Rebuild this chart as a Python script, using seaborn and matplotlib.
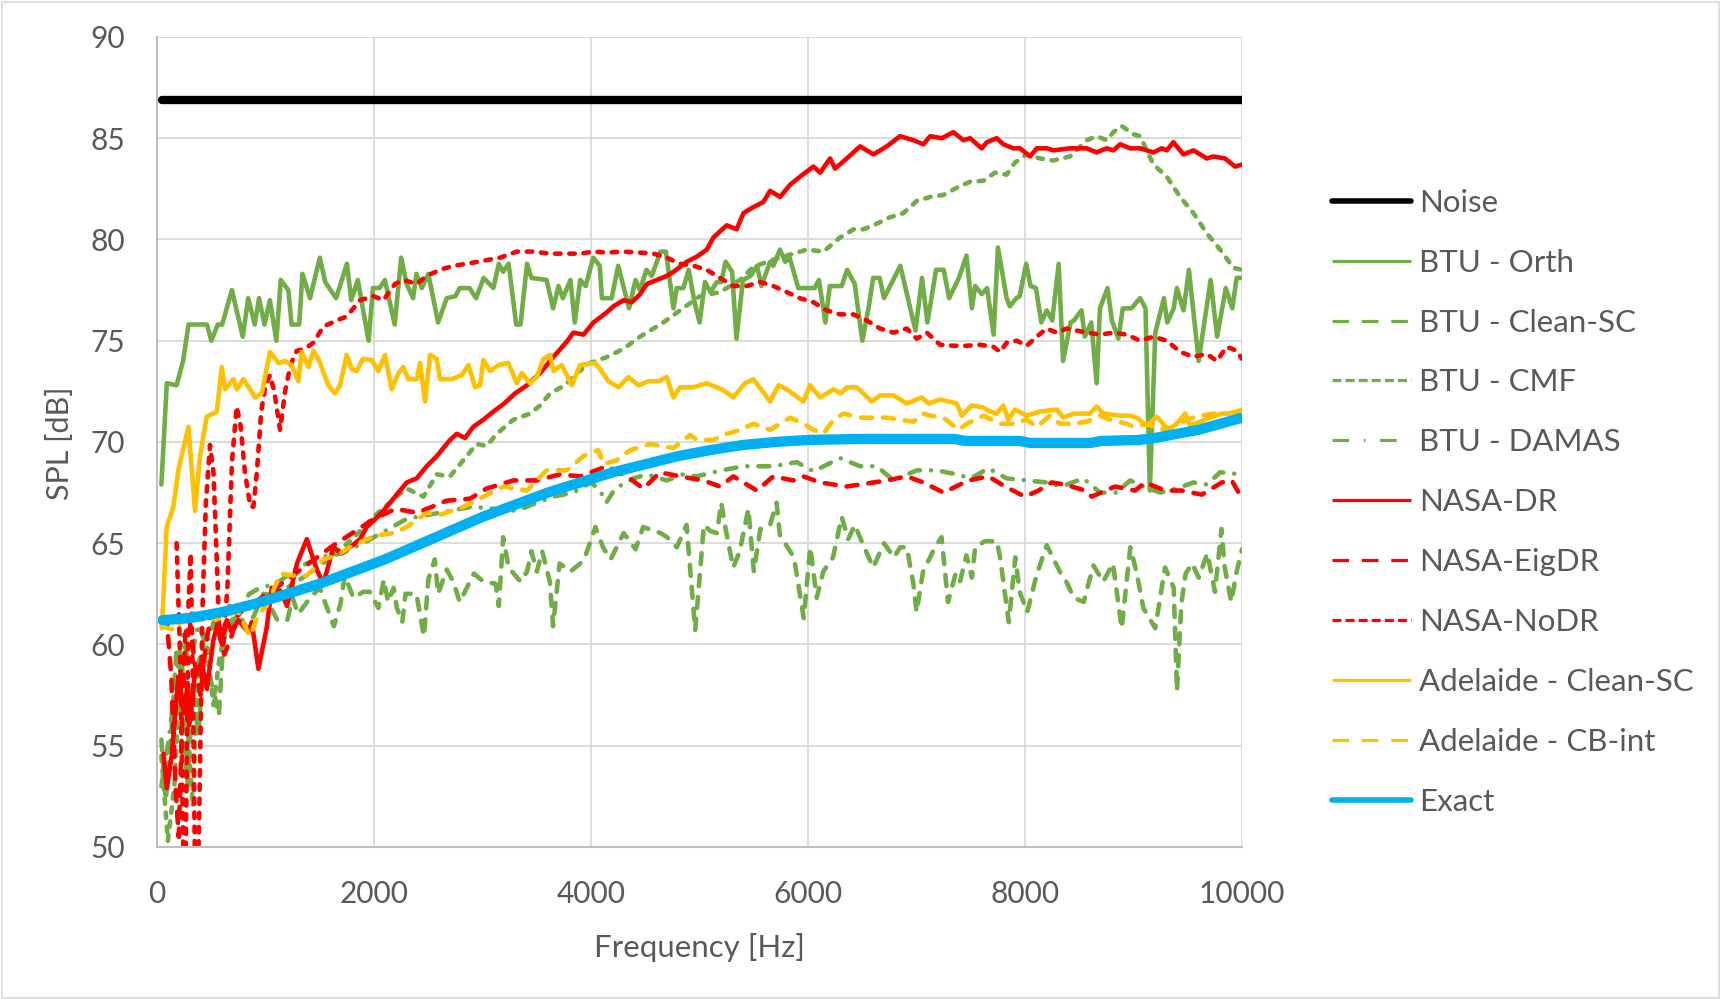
import matplotlib
matplotlib.use("Agg")
import matplotlib.pyplot as plt
from matplotlib.lines import Line2D
from matplotlib.patches import Rectangle
import seaborn as sns

# (frequency [Hz], SPL [dB]) pairs
NOISE = [(50, 86.9), (10000, 86.9)]

BTU_ORTH = [(40, 67.9), (90, 72.9), (180, 72.8), (240, 74.0), (290, 75.8), (460, 75.8), (500, 75.0), (560, 75.8),
            (600, 75.8), (690, 77.5), (790, 75.2), (840, 77.1), (900, 75.8), (940, 77.1), (990, 75.8), (1040, 77.0),
            (1100, 75.0), (1140, 78.0), (1210, 77.5), (1240, 75.8), (1310, 75.8), (1340, 78.3), (1410, 77.1),
            (1500, 79.1), (1550, 77.9), (1650, 77.1), (1750, 78.8), (1790, 77.0), (1850, 78.0), (1950, 75.0),
            (1990, 77.6), (2050, 77.6), (2100, 78.0), (2190, 75.8), (2250, 79.1), (2300, 77.8), (2360, 77.1),
            (2390, 78.3), (2440, 77.6), (2500, 78.3), (2590, 75.9), (2670, 77.1), (2750, 77.2), (2790, 77.6),
            (2880, 77.6), (2940, 77.1), (3010, 78.1), (3100, 77.6), (3150, 78.8), (3190, 78.4), (3240, 78.8),
            (3310, 75.8), (3350, 75.8), (3410, 78.8), (3450, 78.1), (3590, 78.0), (3650, 76.6), (3700, 77.7),
            (3740, 77.1), (3810, 78.0), (3850, 75.9), (3900, 78.0), (3950, 77.7), (4020, 79.1), (4080, 78.7),
            (4100, 77.1), (4190, 77.1), (4250, 78.7), (4350, 76.6), (4410, 78.0), (4450, 77.5), (4510, 78.5),
            (4560, 78.2), (4640, 79.4), (4690, 79.4), (4760, 76.6), (4790, 77.6), (4850, 77.6), (4900, 78.5),
            (4950, 77.0), (5000, 75.9), (5050, 77.9), (5100, 77.4), (5160, 77.9), (5200, 77.9), (5240, 78.9),
            (5300, 78.4), (5340, 75.1), (5400, 78.0), (5470, 78.2), (5530, 78.7), (5570, 77.7), (5650, 78.9),
            (5680, 78.7), (5740, 79.5), (5790, 78.9), (5830, 79.1), (5910, 77.6), (6060, 77.6), (6100, 78.0),
            (6160, 75.9), (6200, 77.7), (6310, 77.7), (6360, 78.5), (6430, 77.8), (6500, 75.0), (6560, 76.7),
            (6600, 78.1), (6660, 78.1), (6700, 77.1), (6850, 78.7), (6990, 75.5), (7050, 78.1), (7100, 75.9),
            (7180, 78.5), (7250, 78.5), (7300, 77.1), (7390, 78.1), (7460, 79.2), (7510, 76.6), (7540, 77.7),
            (7600, 77.3), (7650, 77.6), (7710, 75.3), (7750, 79.6), (7830, 77.1), (7860, 76.7), (7920, 77.1),
            (7950, 77.2), (8010, 78.8), (8050, 77.7), (8100, 77.6), (8150, 75.9), (8200, 76.5), (8250, 76.0),
            (8310, 78.8), (8350, 74.0), (8420, 75.9), (8450, 76.0), (8520, 76.5), (8550, 75.2), (8610, 75.9),
            (8660, 72.9), (8690, 76.6), (8760, 77.6), (8800, 76.0), (8860, 75.1), (8900, 76.6), (8980, 76.6),
            (9060, 77.1), (9110, 76.6), (9150, 67.6), (9200, 75.4), (9280, 77.1), (9310, 75.9), (9370, 76.6),
            (9400, 77.6), (9460, 76.5), (9510, 78.5), (9600, 74.0), (9710, 78.0), (9770, 75.2), (9850, 77.6),
            (9910, 76.6), (9950, 78.1), (10000, 78.1)]

BTU_CLEAN_SC = [(40, 55.3), (80, 52.3), (130, 55.5), (180, 59.8), (230, 56.5), (280, 53.0), (330, 58.0),
                (380, 55.5), (430, 59.2), (480, 58.5), (530, 57.5), (570, 56.5), (610, 60.2), (680, 61.0),
                (750, 61.5), (830, 60.8), (900, 61.5), (980, 62.5), (1050, 61.8), (1110, 61.2), (1200, 61.2),
                (1250, 62.3), (1300, 61.5), (1410, 62.3), (1500, 62.8), (1560, 61.9), (1630, 60.9), (1690, 62.0),
                (1730, 63.4), (1810, 62.3), (1900, 62.6), (1960, 62.6), (2040, 61.8), (2090, 63.2), (2130, 62.1),
                (2180, 62.8), (2210, 61.8), (2260, 61.1), (2290, 62.5), (2390, 62.5), (2460, 60.4), (2500, 63.2),
                (2560, 64.2), (2590, 62.5), (2670, 63.7), (2730, 63.1), (2790, 62.1), (2920, 63.5), (3010, 63.1),
                (3120, 63.0), (3150, 61.9), (3190, 65.3), (3240, 63.8), (3350, 63.1), (3410, 63.6), (3450, 64.6),
                (3500, 63.6), (3550, 64.6), (3620, 63.1), (3650, 60.9), (3710, 64.0), (3810, 63.6), (3900, 64.0),
                (3950, 64.4), (4040, 65.8), (4110, 64.8), (4180, 64.2), (4300, 65.5), (4410, 64.7), (4480, 65.8),
                (4640, 65.5), (4700, 65.3), (4790, 64.8), (4880, 65.9), (4960, 60.7), (5040, 65.9), (5100, 65.6),
                (5160, 65.5), (5200, 67.0), (5240, 65.7), (5310, 63.8), (5370, 64.6), (5450, 66.7), (5500, 63.6),
                (5560, 65.7), (5650, 65.9), (5710, 67.0), (5740, 65.4), (5870, 64.3), (5960, 61.3), (6020, 64.8),
                (6080, 62.3), (6140, 63.6), (6230, 64.3), (6310, 66.3), (6370, 65.2), (6430, 65.9), (6510, 64.9),
                (6600, 63.8), (6700, 65.0), (6790, 64.3), (6850, 64.8), (6910, 64.8), (6970, 63.0), (7000, 61.6),
                (7060, 63.6), (7170, 64.8), (7230, 65.3), (7290, 62.1), (7360, 63.5), (7400, 63.1), (7460, 64.4),
                (7510, 63.3), (7540, 64.8), (7630, 65.1), (7740, 65.1), (7770, 64.3), (7850, 61.1), (7910, 64.3),
                (7950, 62.6), (8020, 61.6), (8110, 63.5), (8200, 64.9), (8320, 63.6), (8380, 63.1), (8450, 62.3),
                (8540, 62.1), (8630, 63.9), (8720, 63.1), (8810, 64.0), (8890, 60.8), (8970, 64.8), (9030, 63.5),
                (9090, 61.8), (9200, 60.8), (9290, 63.8), (9370, 62.8), (9400, 57.7), (9440, 62.0), (9480, 63.5),
                (9540, 64.0), (9600, 63.3), (9680, 64.5), (9750, 62.6), (9810, 65.7), (9840, 63.8), (9900, 62.1),
                (9950, 63.6), (10000, 64.7)]

BTU_CMF = [(40, 54.5), (100, 50.3), (160, 53.0), (220, 59.5), (280, 56.0), (330, 52.0), (380, 59.0), (450, 60.5),
           (520, 57.0), (580, 59.5), (650, 61.0), (750, 61.5), (850, 62.0), (950, 62.3), (1050, 62.6), (1200, 62.8),
           (1400, 63.5), (1600, 64.3), (1800, 65.2), (1994, 66.3), (2209, 67.3), (2301, 67.7), (2455, 67.3),
           (2578, 68.4), (2700, 68.3), (2854, 69.3), (2946, 69.9), (3038, 69.8), (3130, 70.4), (3284, 71.1),
           (3438, 71.4), (3530, 71.8), (3622, 72.4), (3760, 72.8), (3868, 73.4), (3991, 73.9), (4150, 74.2),
           (4298, 74.6), (4452, 75.2), (4666, 75.9), (4820, 76.5), (5004, 77.2), (5188, 77.4), (5373, 78.0),
           (5496, 78.65), (5680, 79.0), (5865, 79.3), (5988, 79.5), (6142, 79.4), (6296, 80.1), (6419, 80.5),
           (6510, 80.5), (6603, 80.7), (6756, 81.1), (6879, 81.3), (7002, 81.9), (7125, 82.1), (7248, 82.2),
           (7386, 82.6), (7493, 82.85), (7616, 82.9), (7723, 83.3), (7830, 83.2), (7907, 83.8), (8015, 84.2),
           (8138, 84.0), (8261, 83.9), (8414, 84.1), (8568, 84.9), (8660, 85.1), (8752, 84.9), (8814, 85.3),
           (8891, 85.6), (8998, 85.2), (9060, 85.1), (9183, 83.7), (9306, 83.1), (9429, 82.1), (9552, 81.3),
           (9675, 80.3), (9798, 79.5), (9920, 78.6), (10000, 78.5)]

BTU_DAMAS = [(40, 53.0), (100, 55.0), (170, 58.0), (230, 60.5), (300, 59.0), (380, 61.0), (450, 60.0), (550, 61.5),
             (650, 62.0), (750, 61.5), (850, 62.5), (950, 62.8), (1100, 63.0), (1300, 63.8), (1500, 64.3),
             (1700, 64.5), (1900, 65.0), (2100, 65.6), (2300, 66.2), (2500, 66.4), (2700, 66.6), (2900, 66.8),
             (3100, 66.7), (3315, 66.6), (3500, 67.0), (3653, 67.3), (3837, 67.5), (4000, 68.0), (4083, 67.6),
             (4140, 67.0), (4222, 67.7), (4390, 68.2), (4513, 68.4), (4697, 68.1), (4850, 68.4), (4973, 68.3),
             (5204, 68.6), (5404, 68.8), (5680, 68.8), (5896, 69.0), (6050, 68.55), (6296, 69.2), (6480, 68.8),
             (6634, 68.8), (6787, 68.1), (7002, 68.6), (7186, 68.6), (7370, 68.4), (7500, 68.2), (7662, 68.7),
             (7831, 68.2), (8015, 68.1), (8199, 68.0), (8337, 67.8), (8537, 68.2), (8691, 67.5), (8845, 67.5),
             (8968, 68.1), (9091, 67.8), (9244, 67.5), (9398, 67.7), (9552, 68.0), (9675, 67.9), (9798, 68.5),
             (10000, 68.4)]

NASA_DR = [(60, 54.6), (90, 52.9), (135, 54.5), (196, 58.4), (250, 56.6), (282, 58.1), (297, 56.0), (350, 58.6),
           (413, 59.1), (459, 57.8), (519, 60.2), (565, 61.2), (596, 60.2), (642, 61.2), (688, 60.6), (750, 61.2),
           (842, 60.6), (873, 61.1), (934, 58.8), (1010, 60.8), (1057, 62.8), (1140, 62.6), (1198, 61.9),
           (1290, 64.0), (1380, 65.2), (1472, 63.7), (1533, 63.0), (1625, 64.8), (1702, 64.5), (1779, 64.8),
           (1871, 65.2), (1932, 65.8), (1994, 66.1), (2086, 66.6), (2148, 67.0), (2209, 67.4), (2301, 68.0),
           (2393, 68.2), (2485, 68.8), (2578, 69.3), (2700, 70.1), (2762, 70.4), (2839, 70.2), (2915, 70.75),
           (3008, 71.1), (3100, 71.5), (3200, 71.9), (3300, 72.4), (3410, 72.8), (3530, 73.4), (3653, 74.2),
           (3776, 74.95), (3837, 75.4), (3930, 75.3), (4022, 75.9), (4145, 76.4), (4207, 76.7), (4299, 77.0),
           (4376, 76.9), (4453, 77.3), (4514, 77.8), (4606, 78.0), (4698, 78.2), (4760, 78.4), (4883, 78.9),
           (4975, 79.15), (5067, 79.5), (5128, 80.1), (5250, 80.7), (5342, 80.5), (5404, 81.3), (5496, 81.6),
           (5588, 81.85), (5650, 82.4), (5742, 82.1), (5834, 82.7), (5926, 83.1), (6049, 83.6), (6111, 83.3),
           (6203, 84.0), (6249, 83.5), (6357, 84.0), (6480, 84.6), (6603, 84.2), (6726, 84.6), (6849, 85.1),
           (6972, 84.9), (7064, 84.7), (7125, 85.1), (7232, 85.0), (7339, 85.3), (7432, 84.9), (7493, 85.0),
           (7601, 84.5), (7647, 84.8), (7738, 85.0), (7800, 84.7), (7892, 84.5), (7954, 84.5), (8046, 84.1),
           (8107, 84.5), (8199, 84.5), (8261, 84.4), (8415, 84.5), (8476, 84.5), (8568, 84.5), (8660, 84.3),
           (8753, 84.5), (8814, 84.4), (8876, 84.7), (8968, 84.5), (9060, 84.5), (9183, 84.3), (9260, 84.5),
           (9306, 84.4), (9367, 84.8), (9460, 84.2), (9552, 84.4), (9675, 84.0), (9736, 84.1), (9843, 84.0),
           (9935, 83.6), (10000, 83.7)]

NASA_EIGDR = [(50, 61.0), (90, 61.2), (130, 58.5), (170, 53.0), (200, 50.5), (230, 56.0), (260, 60.5), (300, 61.2),
              (350, 59.0), (400, 57.5), (450, 60.0), (500, 61.5), (560, 60.8), (620, 59.5), (680, 60.3), (740, 61.4),
              (800, 61.8), (880, 62.0), (960, 62.3), (1040, 62.6), (1200, 63.2), (1400, 64.0), (1600, 64.8),
              (1800, 65.5), (2000, 66.2), (2200, 66.7), (2400, 66.5), (2670, 67.1), (2885, 67.2), (3038, 67.7),
              (3284, 68.1), (3499, 68.1), (3714, 68.4), (3899, 68.3), (4145, 68.8), (4330, 68.3), (4483, 67.7),
              (4636, 68.5), (4820, 68.3), (5035, 68.1), (5188, 67.8), (5311, 68.3), (5527, 67.6), (5680, 68.3),
              (5865, 68.1), (5957, 68.3), (6111, 68.0), (6357, 67.8), (6480, 67.9), (6726, 68.1), (6910, 68.3),
              (7063, 68.0), (7248, 67.5), (7478, 68.1), (7662, 68.3), (7815, 67.8), (8000, 67.3), (8123, 67.6),
              (8245, 68.0), (8368, 67.9), (8553, 67.6), (8614, 67.3), (8830, 67.8), (9014, 67.6), (9106, 68.0),
              (9290, 67.6), (9444, 67.6), (9629, 67.4), (9813, 68.0), (9905, 68.1), (10000, 67.2)]

NASA_NODR = [(180, 65.0), (215, 59.0), (240, 50.5), (250, 48.0), (265, 50.0), (290, 62.0), (310, 64.5), (330, 58.0),
             (350, 49.0), (370, 47.0), (390, 52.0), (420, 62.0), (450, 67.0), (488, 69.85), (520, 68.5), (545, 65.0),
             (575, 60.5), (610, 59.8), (650, 63.0), (690, 69.0), (734, 71.75), (770, 70.8), (810, 68.5), (860, 66.8),
             (888, 66.8), (920, 68.5), (960, 71.5), (1000, 72.8), (1041, 73.3), (1080, 72.5), (1134, 70.6),
             (1180, 72.5), (1230, 73.8), (1287, 74.5), (1362, 74.6), (1441, 74.9), (1533, 75.7), (1656, 76.0),
             (1748, 76.2), (1871, 77.0), (1994, 77.2), (2086, 77.0), (2193, 77.8), (2270, 78.0), (2393, 77.8),
             (2485, 78.2), (2608, 78.5), (2731, 78.7), (2854, 78.8), (3008, 78.95), (3162, 79.1), (3315, 79.4),
             (3469, 79.4), (3622, 79.3), (3745, 79.3), (3899, 79.3), (4022, 79.4), (4145, 79.35), (4299, 79.4),
             (4452, 79.35), (4575, 79.3), (4697, 79.1), (4820, 78.8), (4943, 78.7), (5066, 78.5), (5188, 78.1),
             (5311, 77.7), (5434, 77.7), (5557, 77.9), (5680, 77.7), (5803, 77.4), (5926, 77.1), (6049, 76.9),
             (6172, 76.5), (6295, 76.3), (6418, 76.3), (6541, 76.0), (6664, 75.6), (6787, 75.4), (6910, 75.6),
             (7002, 75.1), (7094, 75.4), (7217, 74.8), (7340, 74.75), (7462, 74.75), (7585, 74.8), (7708, 74.7),
             (7769, 74.45), (7830, 74.9), (7923, 75.0), (8015, 74.75), (8107, 75.2), (8199, 75.6), (8291, 75.4),
             (8384, 75.6), (8476, 75.5), (8568, 75.4), (8691, 75.3), (8814, 75.4), (8937, 75.3), (9060, 75.0),
             (9183, 75.2), (9306, 75.0), (9429, 74.45), (9552, 74.2), (9675, 74.35), (9767, 74.0), (9859, 74.7),
             (9951, 74.5), (10000, 74.1)]

ADL_CLEAN_SC = [(45, 60.8), (60, 62.5), (89, 65.8), (150, 66.8), (196, 68.6), (289, 70.75), (350, 66.6), (396, 69.3),
                (458, 71.25), (551, 71.5), (596, 73.7), (627, 72.6), (704, 73.1), (735, 72.6), (796, 73.1),
                (904, 72.2), (965, 72.4), (1041, 74.45), (1118, 73.9), (1180, 74.0), (1241, 73.8), (1302, 73.0),
                (1333, 74.45), (1395, 73.7), (1441, 74.5), (1487, 74.1), (1579, 72.8), (1640, 72.4), (1686, 72.8),
                (1748, 74.3), (1794, 73.6), (1840, 73.5), (1896, 74.1), (1978, 74.05), (2040, 73.5), (2101, 74.3),
                (2163, 72.6), (2224, 73.4), (2270, 73.7), (2316, 73.1), (2393, 73.1), (2424, 73.9), (2470, 72.0),
                (2516, 74.3), (2577, 74.1), (2608, 73.1), (2715, 73.1), (2808, 73.3), (2870, 73.8), (2931, 72.7),
                (2977, 72.8), (3008, 74.05), (3070, 73.5), (3146, 73.8), (3238, 73.9), (3315, 72.9), (3361, 73.4),
                (3438, 72.9), (3499, 73.2), (3561, 74.1), (3622, 74.3), (3653, 73.5), (3730, 73.8), (3822, 72.8),
                (3899, 73.8), (4037, 73.9), (4083, 73.6), (4160, 73.0), (4253, 72.7), (4345, 73.2), (4437, 72.8),
                (4530, 73.0), (4622, 73.0), (4697, 73.2), (4759, 72.2), (4820, 72.7), (4943, 72.7), (5066, 72.9),
                (5204, 72.6), (5311, 72.2), (5419, 72.9), (5496, 73.1), (5588, 72.45), (5650, 72.0), (5727, 72.8),
                (5803, 72.6), (5957, 72.0), (6018, 72.8), (6111, 72.2), (6234, 72.6), (6300, 72.4), (6357, 72.7),
                (6449, 72.7), (6587, 72.0), (6664, 72.3), (6787, 72.3), (6910, 71.9), (7049, 72.2), (7110, 71.9),
                (7218, 72.1), (7370, 71.9), (7416, 71.3), (7508, 71.8), (7616, 71.7), (7677, 71.5), (7739, 71.4),
                (7800, 71.8), (7846, 71.1), (7907, 71.6), (8015, 71.3), (8138, 71.5), (8292, 71.6), (8353, 71.2),
                (8445, 71.4), (8599, 71.4), (8660, 71.75), (8722, 71.4), (8876, 71.3), (8968, 71.3), (9029, 71.2),
                (9121, 70.8), (9213, 71.25), (9321, 70.6), (9398, 70.9), (9475, 71.4), (9521, 70.8), (9613, 71.0),
                (9705, 71.2), (9813, 71.4), (9874, 71.4), (9951, 71.5), (10000, 71.6)]

ADL_CB_INT = [(40, 60.9), (166, 60.7), (243, 61.3), (304, 61.7), (411, 61.2), (473, 61.5), (534, 61.2), (657, 61.5),
              (750, 61.6), (811, 60.9), (857, 60.4), (934, 61.5), (1010, 61.9), (1137, 63.5), (1260, 63.4),
              (1380, 63.4), (1533, 64.2), (1656, 64.4), (1779, 64.8), (1932, 65.2), (2050, 65.4), (2178, 65.5),
              (2301, 65.8), (2486, 66.5), (2609, 66.4), (2824, 66.8), (3008, 67.3), (3192, 67.8), (3407, 67.6),
              (3591, 68.6), (3776, 68.6), (3929, 69.3), (4066, 69.6), (4114, 68.9), (4237, 69.1), (4360, 69.6),
              (4544, 69.9), (4759, 69.7), (4913, 70.35), (4974, 70.1), (5127, 70.1), (5250, 70.4), (5373, 70.6),
              (5496, 70.9), (5650, 70.6), (5834, 71.2), (5957, 70.9), (6049, 70.6), (6142, 70.4), (6234, 71.1),
              (6327, 71.4), (6480, 71.2), (6603, 71.2), (6726, 71.2), (6849, 71.1), (6971, 71.0), (7064, 71.4),
              (7125, 71.3), (7248, 71.2), (7386, 70.6), (7463, 70.9), (7616, 71.3), (7769, 70.9), (7892, 70.9),
              (8015, 71.1), (8107, 70.75), (8230, 71.3), (8322, 70.9), (8445, 70.9), (8568, 71.0), (8691, 71.3),
              (8783, 71.1), (8937, 70.9), (8998, 70.75), (9121, 70.9), (9244, 70.6), (9367, 70.75), (9490, 71.1),
              (9613, 71.3), (9736, 71.4), (9859, 71.4), (10000, 71.5)]

EXACT = [(50, 61.2), (300, 61.3), (600, 61.6), (900, 62.0), (1200, 62.5), (1500, 63.0), (1800, 63.6), (2100, 64.2),
         (2400, 64.9), (2700, 65.6), (3000, 66.3), (3300, 66.9), (3600, 67.5), (3900, 68.0), (4200, 68.5),
         (4500, 68.9), (4800, 69.3), (5100, 69.6), (5400, 69.85), (5700, 70.0), (6000, 70.1), (6500, 70.15),
         (7000, 70.15), (7350, 70.15), (7450, 70.05), (7950, 70.05), (8050, 69.95), (8600, 69.95), (8700, 70.05),
         (9050, 70.1), (9200, 70.2), (9400, 70.4), (9600, 70.6), (9800, 70.9), (10000, 71.2)]

LABELS = ["Noise", "BTU - Orth", "BTU - Clean-SC", "BTU - CMF", "BTU - DAMAS", "NASA-DR", "NASA-EigDR",
          "NASA-NoDR", "Adelaide - Clean-SC", "Adelaide - CB-int", "Exact"]
SERIES = [NOISE, BTU_ORTH, BTU_CLEAN_SC, BTU_CMF, BTU_DAMAS, NASA_DR, NASA_EIGDR, NASA_NODR,
          ADL_CLEAN_SC, ADL_CB_INT, EXACT]

GREEN, RED, GOLD, BLUE = "#70AD47", "#FF0000", "#FFC000", "#00B0F0"
LONG, SHORT, DASHDOT = (0, (2.4, 2.4)), (0, (1.2, 1.9)), (0, (2.4, 2.4, 0.01, 2.4))
LEG_LONG, LEG_SHORT, LEG_DASHDOT = (0, (5.2, 4.0)), (0, (2.8, 1.3)), (0, (5.2, 4.6, 0.5, 4.6))
# colour, plot width, plot style, legend width, legend style
STYLES = [("black", 6.0, "-", 4.0, "-"),
          (GREEN, 3.3, "-", 2.3, "-"),
          (GREEN, 3.3, LONG, 2.3, LEG_LONG),
          (GREEN, 3.3, SHORT, 2.3, LEG_SHORT),
          (GREEN, 3.3, DASHDOT, 2.3, LEG_DASHDOT),
          (RED, 3.3, "-", 2.3, "-"),
          (RED, 3.3, LONG, 2.3, LEG_LONG),
          (RED, 3.3, SHORT, 2.3, LEG_SHORT),
          (GOLD, 3.3, "-", 2.3, "-"),
          (GOLD, 3.3, LONG, 2.3, LEG_LONG),
          (BLUE, 7.4, "-", 4.0, "-")]

TEXT = "#595959"

sns.set_theme(style="white")
plt.rcParams["font.family"] = ["Lato", "DejaVu Sans"]

fig = plt.figure(figsize=(17.22, 9.99), dpi=100)
ax = fig.add_axes([0.0912, 0.1522, 0.6301, 0.8108])

handles = []
for pts, (color, lw, ls, leg_lw, leg_ls) in zip(SERIES, STYLES):
    freq, spl = zip(*pts)
    sns.lineplot(x=list(freq), y=list(spl), ax=ax, color=color, linewidth=lw, linestyle=ls,
                 estimator=None, sort=False, legend=False,
                 solid_capstyle="round", dash_capstyle="round", solid_joinstyle="round")
    handles.append(Line2D([], [], color=color, linewidth=leg_lw, linestyle=leg_ls,
                          solid_capstyle="round" if color in ("black", BLUE) else "butt"))

ax.set_xlim(0, 10000)
ax.set_ylim(50, 90)
ax.set_xticks(range(0, 10001, 2000))
ax.set_yticks(range(50, 91, 5))
ax.grid(True, color="#D9D9D9", linewidth=1.3)
ax.set_axisbelow(True)
for side in ("top", "right"):
    ax.spines[side].set_visible(False)
for side in ("left", "bottom"):
    ax.spines[side].set_color("#BFBFBF")
    ax.spines[side].set_linewidth(1.5)
ax.tick_params(length=0, labelsize=21.5, labelcolor=TEXT)
ax.tick_params(axis="x", pad=24)
ax.tick_params(axis="y", pad=23)

ax.set_xlabel("Frequency [Hz]", fontsize=22.5, color=TEXT)
ax.xaxis.label.set_va("center")
ax.xaxis.set_label_coords(0.4995, -0.124)
ax.set_ylabel("SPL [dB]", fontsize=22, color=TEXT, family=["Liberation Sans Narrow", "Lato"])
ax.yaxis.label.set_va("center")
ax.yaxis.set_label_coords(-0.0894, 0.4988)

fig.legend(handles, LABELS, loc="upper left", bbox_to_anchor=(0.7735, 0.811), frameon=False,
           fontsize=22.5, labelcolor=TEXT, handlelength=2.53, handletextpad=0.26, labelspacing=1.02,
           borderpad=0, borderaxespad=0)

fig.patches.append(Rectangle((0.001, 0.0015), 0.997, 0.996, transform=fig.transFigure,
                             fill=False, edgecolor="#D9D9D9", linewidth=1.2))

fig.savefig("out.png", dpi=100)
